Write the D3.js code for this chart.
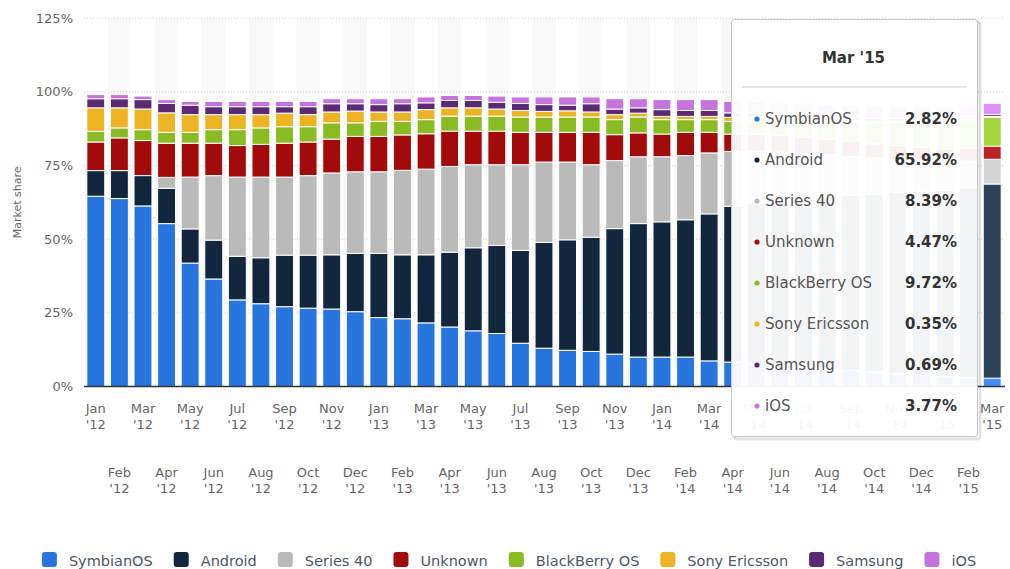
<!DOCTYPE html>
<html>
<head>
<meta charset="utf-8">
<script src="https://cdn.jsdelivr.net/npm/d3@7"></script>
<style>
  body { margin: 0; background: #fff; }
  svg { display: block; font-family: "DejaVu Sans", Verdana, sans-serif; }
  .tick-lbl { fill: #666; font-size: 13px; }
  .grid { stroke: #cfcfcf; stroke-dasharray: 1,2; }
</style>
</head>
<body>
<svg id="chart" width="1010" height="569"></svg>
<script>
// Data (market share in %, Jan '12 .. Mar '15)
const months = ['Jan', 'Feb', 'Mar', 'Apr', 'May', 'Jun', 'Jul', 'Aug', 'Sep', 'Oct', 'Nov', 'Dec']
const categories = []
for (let y = 12; y <= 15; y++)
    months.forEach(m => { if (categories.length < 39) categories.push(`${m} '${y}`) })

const seriesNames = ['SymbianOS', 'Android', 'Series 40', 'Unknown', 'BlackBerry OS', 'Sony Ericsson', 'Samsung', 'iOS']
const seriesColors = ['#2876dd', '#12273d', '#bababa', '#a20b0c', '#8aba24', '#ecb425', '#5c2a72', '#c574dc']

const symbian   = [64.6, 63.8, 61.3, 55.3, 41.9, 36.5, 29.4, 28.1, 27.1, 26.6, 26.3, 25.4, 23.4, 23.0, 21.6, 20.2, 18.9, 18.0, 14.7, 13.0,
                   12.3, 11.9, 11.0, 10.0, 10.0, 10.0, 8.7, 8.3, 7.9, 7.2, 6.5, 6.0, 5.4, 4.9, 4.3, 3.8, 3.3, 3.0, 2.82]
const android   = [8.7, 9.5, 10.3, 12.0, 11.6, 13.2, 14.8, 15.6, 17.5, 18.0, 18.4, 19.8, 21.8, 21.7, 23.1, 25.4, 28.2, 29.9, 31.5, 35.9,
                   37.5, 38.8, 42.6, 45.3, 45.9, 46.6, 49.9, 52.9, 54.5, 56.0, 57.3, 58.6, 59.5, 60.4, 61.5, 62.4, 63.3, 64.5, 65.92]
const series40  = [0, 0, 0, 3.7, 17.6, 21.9, 26.9, 27.4, 26.5, 27.0, 27.8, 27.7, 27.7, 28.7, 29.1, 29.1, 28.2, 27.4, 29.1, 27.3,
                   26.4, 24.6, 23.1, 22.7, 22.1, 21.8, 20.7, 18.6, 17.5, 16.4, 15.3, 14.1, 13.2, 12.2, 11.3, 10.5, 9.6, 9.0, 8.39]
const unknown   = [9.7, 11.1, 11.9, 11.6, 11.5, 11.0, 10.7, 11.1, 11.5, 11.4, 11.5, 12.0, 12.0, 12.0, 12.0, 12.0, 11.4, 11.4, 11.0, 10.1,
                   10.1, 11.0, 8.8, 8.1, 7.7, 7.9, 7.0, 5.9, 5.8, 5.6, 5.5, 5.3, 5.1, 4.9, 4.7, 4.6, 4.5, 4.4, 4.47]
const blackberry = [3.6, 3.4, 3.7, 3.7, 3.7, 4.6, 5.4, 5.6, 5.6, 5.2, 5.5, 4.6, 5.1, 4.6, 4.8, 5.1, 5.1, 5.1, 5.2, 5.2,
                   5.2, 5.2, 5.1, 5.4, 4.9, 4.3, 4.3, 4.3, 4.5, 4.8, 5.2, 5.6, 6.3, 7.0, 7.8, 8.5, 9.2, 9.6, 9.72]
const sony      = [8.0, 6.8, 7.0, 6.6, 6.0, 5.1, 5.1, 4.5, 4.6, 4.1, 3.7, 4.0, 3.2, 3.2, 3.4, 2.8, 2.8, 2.4, 2.2, 1.9,
                   2.1, 1.7, 1.7, 1.3, 1.1, 1.1, 1.1, 1.4, 1.2, 1.0, 0.9, 0.8, 0.7, 0.6, 0.5, 0.5, 0.4, 0.4, 0.35]
const samsung   = [3.1, 3.1, 3.2, 3.2, 3.2, 2.7, 2.7, 2.7, 2.2, 2.7, 2.8, 2.5, 2.5, 2.8, 2.3, 2.5, 2.5, 2.3, 2.4, 2.3,
                   1.9, 2.8, 1.9, 1.8, 2.3, 2.0, 2.0, 1.5, 1.5, 1.4, 1.3, 1.2, 1.1, 1.0, 0.9, 0.8, 0.8, 0.7, 0.69]
const ios       = [1.4, 1.4, 1.2, 1.3, 1.3, 1.8, 1.8, 1.8, 1.8, 1.8, 1.7, 1.7, 2.0, 1.7, 2.0, 1.7, 1.7, 2.1, 2.2, 2.6,
                   2.8, 2.3, 3.5, 3.1, 3.4, 3.7, 3.7, 3.9, 3.9, 4.0, 3.9, 4.0, 4.1, 4.0, 3.9, 3.8, 3.8, 3.8, 3.77]

const yTicks = [0, 25, 50, 75, 100, 125]
const hoverIndex = 38   // Mar '15 shown in the tooltip

// Build table for d3.stack
const seriesValues = [symbian, android, series40, unknown, blackberry, sony, samsung, ios]
const table = categories.map((c, i) => {
    const row = {cat: c}
    seriesNames.forEach((s, k) => row[s] = seriesValues[k][i])
    return row
})

const svg = d3.select('#chart')
const plot = {left: 84, right: 1004, top: 18.3, bottom: 386.5}

const x = d3.scaleBand().domain(categories).range([plot.left, plot.right]).paddingInner(0.24).paddingOuter(0.12)
const y = d3.scaleLinear().domain([0, 125]).range([plot.bottom, plot.top])
const step = x.step()

/* Alternating bands */
svg.append('g').selectAll('rect').data(categories.filter((c, i) => i % 2 === 1)).enter()
    .append('rect')
    .attr('x', c => x(c) - step * 0.12)
    .attr('y', plot.top)
    .attr('width', step)
    .attr('height', plot.bottom - plot.top)
    .attr('fill', '#f9f9f9')

/* Grid */
svg.append('g').selectAll('line').data(yTicks.filter(t => t > 0)).enter()
    .append('line')
    .attr('class', 'grid')
    .attr('x1', plot.left).attr('x2', plot.right + 1)
    .attr('y1', d => y(d)).attr('y2', d => y(d))

/* Y labels */
svg.append('g').selectAll('text').data(yTicks).enter()
    .append('text')
    .attr('class', 'tick-lbl')
    .attr('x', 73)
    .attr('y', d => y(d) + 4.5)
    .attr('text-anchor', 'end')
    .text(d => d + '%')

svg.append('text')
    .attr('transform', `translate(21,${(plot.top + plot.bottom) / 2}) rotate(-90)`)
    .attr('text-anchor', 'middle')
    .attr('fill', '#666')
    .style('font-size', '11px')
    .text('Market share')

/* Bars */
const stacked = d3.stack().keys(seriesNames)(table)
const brighten = c => { const r = d3.rgb(c); return d3.rgb(Math.min(255, r.r + 26), Math.min(255, r.g + 26), Math.min(255, r.b + 26)).toString() }

svg.append('g').selectAll('g').data(stacked).enter()
    .append('g')
    .each(function(layer, k) {
        d3.select(this).selectAll('rect').data(layer.filter(d => d[1] - d[0] > 0)).enter()
            .append('rect')
            .attr('x', d => x(d.data.cat))
            .attr('width', x.bandwidth())
            .attr('y', d => y(d[1]))
            .attr('height', d => y(d[0]) - y(d[1]))
            .attr('fill', d => d.data.cat === categories[hoverIndex] ? brighten(seriesColors[k]) : seriesColors[k])
            .attr('stroke', '#fff')
            .attr('stroke-width', 1)
    })

/* X axis line */
svg.append('line')
    .attr('x1', plot.left).attr('x2', plot.right + 1)
    .attr('y1', plot.bottom).attr('y2', plot.bottom)
    .attr('stroke', '#333').attr('stroke-width', 1.5)

/* X labels, staggered in two rows */
const xl = svg.append('g').selectAll('text').data(categories).enter()
    .append('text')
    .attr('class', 'tick-lbl')
    .attr('text-anchor', 'middle')
    .attr('transform', (c, i) => `translate(${x(c) + x.bandwidth() / 2},${i % 2 ? 477 : 413})`)
xl.append('tspan').attr('x', 0).attr('y', 0).text(c => c.split(' ')[0])
xl.append('tspan').attr('x', 0).attr('y', 16).text(c => c.split(' ')[1])

/* Legend */
const legend = svg.append('g')
const gap = 21
let lx = 0
const items = seriesNames.map((s, k) => {
    const t = legend.append('text').attr('y', 566).attr('fill', '#4b596a').style('font-size', '14.5px').text(s)
    const w = t.node().getComputedTextLength()
    const it = {t: t, x: lx, w: w, k: k}
    lx += 15 + 12 + w + gap
    return it
})
const lOff = 509 - (lx - gap) / 2
items.forEach(it => {
    legend.append('rect')
        .attr('x', lOff + it.x).attr('y', 552).attr('width', 15).attr('height', 15).attr('rx', 3)
        .attr('fill', seriesColors[it.k])
    it.t.attr('x', lOff + it.x + 27)
})

/* Tooltip */
const tip = svg.append('g').attr('transform', 'translate(731.5,19.5)')
const tipW = 246, tipH = 417
;[3, 2, 1].forEach(o => tip.append('rect')
    .attr('x', o).attr('y', o).attr('width', tipW).attr('height', tipH).attr('rx', 3)
    .attr('fill', 'none').attr('stroke', '#000').attr('stroke-opacity', 0.03 * o).attr('stroke-width', 2))
tip.append('rect')
    .attr('width', tipW).attr('height', tipH).attr('rx', 3)
    .attr('fill', '#fff').attr('fill-opacity', 0.95)
    .attr('stroke', '#c9c9c9')
tip.append('text')
    .attr('x', tipW / 2 - 1).attr('y', 43)
    .attr('text-anchor', 'middle').attr('fill', '#333')
    .style('font-size', '15px').style('font-weight', 'bold')
    .text(categories[hoverIndex])
tip.append('line')
    .attr('x1', 10.5).attr('x2', 235.5).attr('y1', 67.5).attr('y2', 67.5)
    .attr('stroke', '#ccc')
const rows = tip.selectAll('.row').data(seriesNames).enter()
    .append('g')
    .attr('transform', (s, k) => `translate(0,${104.5 + k * 41})`)
rows.append('circle').attr('cx', 25.5).attr('cy', -5).attr('r', 2.6).attr('fill', (s, k) => seriesColors[k])
rows.append('text').attr('x', 33.5).attr('fill', '#555').style('font-size', '15px').text(s => s)
rows.append('text').attr('x', 225.5).attr('text-anchor', 'end').attr('fill', '#333')
    .style('font-size', '15px').style('font-weight', 'bold')
    .text((s, k) => seriesValues[k][hoverIndex].toFixed(2) + '%')
</script>
</body>
</html>
